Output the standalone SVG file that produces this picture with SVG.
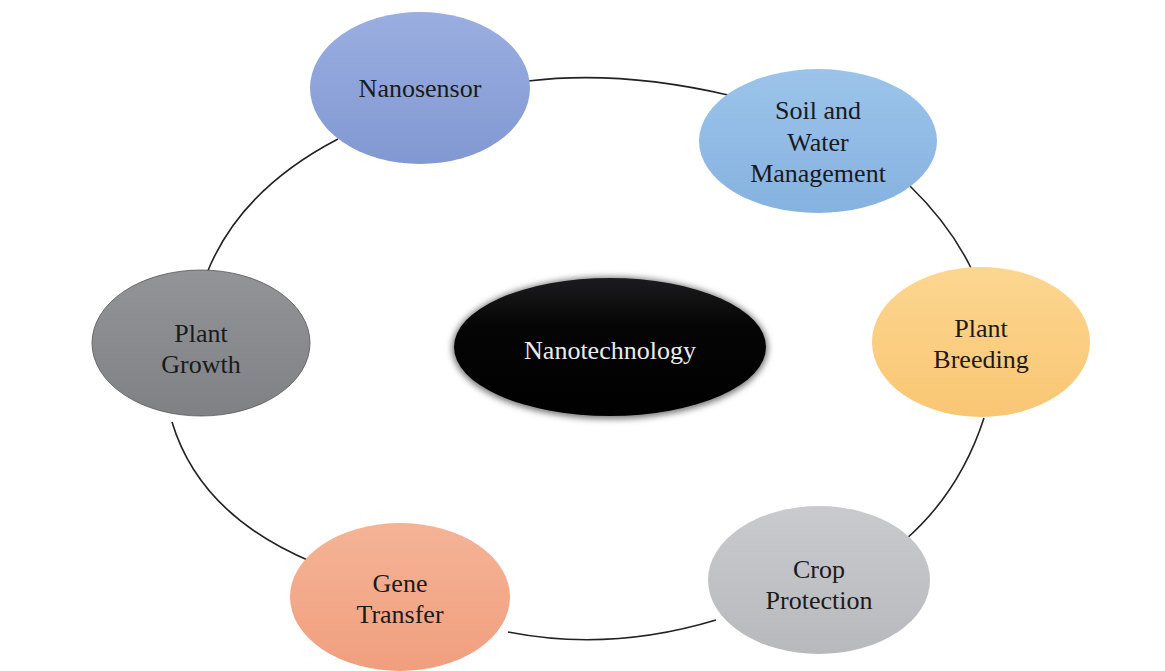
<svg xmlns="http://www.w3.org/2000/svg" width="1165" height="671" viewBox="0 0 1165 671">
<defs>
<linearGradient id="gBlue" x1="0" y1="0" x2="0" y2="1"><stop offset="0" stop-color="#9aaee0"/><stop offset="1" stop-color="#8198d2"/></linearGradient>
<linearGradient id="gSky" x1="0" y1="0" x2="0" y2="1"><stop offset="0" stop-color="#9cc4ea"/><stop offset="1" stop-color="#86b2e0"/></linearGradient>
<linearGradient id="gYel" x1="0" y1="0" x2="0" y2="1"><stop offset="0" stop-color="#fcd690"/><stop offset="1" stop-color="#f9c673"/></linearGradient>
<linearGradient id="gGray" x1="0" y1="0" x2="0" y2="1"><stop offset="0" stop-color="#939498"/><stop offset="1" stop-color="#808185"/></linearGradient>
<linearGradient id="gSal" x1="0" y1="0" x2="0" y2="1"><stop offset="0" stop-color="#f5b396"/><stop offset="1" stop-color="#f09f7e"/></linearGradient>
<linearGradient id="gLG" x1="0" y1="0" x2="0" y2="1"><stop offset="0" stop-color="#c9cacd"/><stop offset="1" stop-color="#b8b9bc"/></linearGradient>
<linearGradient id="gBlk" x1="0" y1="0" x2="0" y2="1"><stop offset="0" stop-color="#1c1c1e"/><stop offset="0.35" stop-color="#050505"/><stop offset="1" stop-color="#000"/></linearGradient>
<filter id="glow" x="-20%" y="-30%" width="140%" height="160%"><feGaussianBlur stdDeviation="3"/></filter>
<style>
.lbl{font-family:"Liberation Serif","Times New Roman",serif;font-size:26px;fill:#1a1a1a;text-anchor:middle}
.wht{fill:#ececec}
.con{fill:none;stroke:#222;stroke-width:1.6}
</style>
</defs>
<rect width="1165" height="671" fill="#fff"/>
<g id="connectors">
<path class="con" d="M528,81 Q620,70 728,95"/>
<path class="con" d="M338,139 Q240,190 207,273"/>
<path class="con" d="M910,186 Q950,225 971,268"/>
<path class="con" d="M172,422 Q200,515 312,562"/>
<path class="con" d="M984,418 Q960,492 905,540"/>
<path class="con" d="M508,632 Q610,652 716,620"/>
</g>
<g id="nanosensor">
<ellipse cx="420" cy="88" rx="110" ry="76" fill="url(#gBlue)"/>
<text class="lbl" x="420" y="97">Nanosensor</text>
</g>
<g id="soil-water">
<ellipse cx="818" cy="141" rx="119" ry="72" fill="url(#gSky)"/>
<text class="lbl" x="818" y="119">Soil and</text>
<text class="lbl" x="818" y="151">Water</text>
<text class="lbl" x="818" y="182">Management</text>
</g>
<g id="plant-breeding">
<ellipse cx="981" cy="342" rx="109" ry="75" fill="url(#gYel)"/>
<text class="lbl" x="981" y="337">Plant</text>
<text class="lbl" x="981" y="368">Breeding</text>
</g>
<g id="plant-growth">
<ellipse cx="201" cy="343" rx="109" ry="73" fill="url(#gGray)" stroke="#555" stroke-width="0.8"/>
<text class="lbl" x="201" y="342">Plant</text>
<text class="lbl" x="201" y="373">Growth</text>
</g>
<g id="nanotechnology">
<ellipse cx="610" cy="348" rx="158" ry="71" fill="#777" filter="url(#glow)"/>
<ellipse cx="610" cy="347" rx="156" ry="69" fill="url(#gBlk)"/>
<text class="lbl wht" x="610" y="359">Nanotechnology</text>
</g>
<g id="gene-transfer">
<ellipse cx="400" cy="597" rx="110" ry="74" fill="url(#gSal)"/>
<text class="lbl" x="400" y="592">Gene</text>
<text class="lbl" x="400" y="623">Transfer</text>
</g>
<g id="crop-protection">
<ellipse cx="819" cy="580" rx="111" ry="74" fill="url(#gLG)"/>
<text class="lbl" x="819" y="578">Crop</text>
<text class="lbl" x="819" y="609">Protection</text>
</g>
</svg>
